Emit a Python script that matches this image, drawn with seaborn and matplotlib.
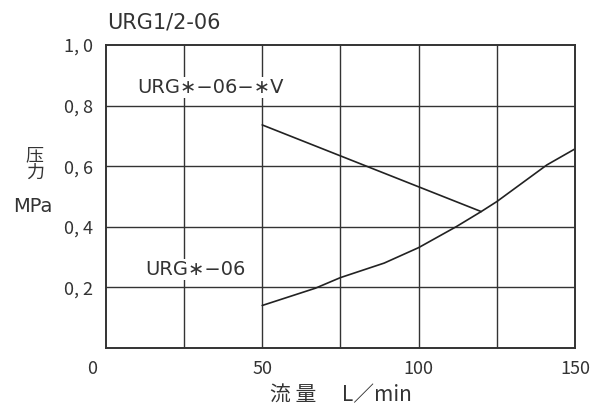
import matplotlib
matplotlib.use("Agg")
import matplotlib.pyplot as plt
import matplotlib.transforms as mtransforms
import seaborn as sns
import pandas as pd

# --- data ---
flow_v = [50, 120]
press_v = [0.736, 0.45]

flow_std = [50, 67, 75, 89, 100, 112, 120, 125, 141, 150]
press_std = [0.14, 0.197, 0.232, 0.28, 0.331, 0.40, 0.45, 0.483, 0.604, 0.657]

x_ticks = [0, 50, 100, 150]
y_ticks = [0.2, 0.4, 0.6, 0.8, 1.0]
y_labels = ["0, 2", "0, 4", "0, 6", "0, 8", "1, 0"]

df = pd.concat([
    pd.DataFrame({"flow": flow_v, "press": press_v, "series": "URG*-06-*V"}),
    pd.DataFrame({"flow": flow_std, "press": press_std, "series": "URG*-06"}),
])

sns.set_style("white")
plt.rcParams["font.family"] = ["Noto Sans CJK JP", "DejaVu Sans"]
txt = "#333333"
latin = ["DejaVu Sans"]

fig = plt.figure(figsize=(5.91, 4.05), dpi=100)
ax = fig.add_axes([0.179, 0.141, 0.794, 0.748])

sns.lineplot(data=df, x="flow", y="press", units="series", estimator=None,
             color="#222222", linewidth=1.2, sort=False, ax=ax)
if ax.get_legend():
    ax.get_legend().remove()

ax.set_xlim(0, 150)
ax.set_ylim(0, 1.0)

# grid
for gx in [25, 50, 75, 100, 125]:
    ax.axvline(gx, color="#333333", linewidth=1.0, zorder=0)
for gy in y_ticks[:-1]:
    ax.axhline(gy, color="#333333", linewidth=1.0, zorder=0)

for s in ax.spines.values():
    s.set_color("#333333")
    s.set_linewidth(1.4)

ax.set_xticks(x_ticks)
ax.set_xticklabels([str(t) for t in x_ticks])
ax.set_yticks(y_ticks)
ax.set_yticklabels(y_labels)
ax.tick_params(axis="both", length=0, labelsize=13, colors=txt)
ax.tick_params(axis="y", pad=9)
ax.tick_params(axis="x", pad=9)

# the "0" label sits left of the axis corner, as in the original
xl = ax.get_xticklabels()
xl[0].set_horizontalalignment("right")
xl[0].set_transform(xl[0].get_transform() + mtransforms.ScaledTranslation(-0.09, 0, fig.dpi_scale_trans))

ax.set_xlabel("")
ax.set_ylabel("")
fig.text(0.577, 0.025, "流 量　 L／min", ha="center", va="center", fontsize=15, color=txt)
fig.text(0.059, 0.617, "压", ha="center", va="center", fontsize=13, color=txt)
fig.text(0.059, 0.573, "力", ha="center", va="center", fontsize=13, color=txt)
fig.text(0.056, 0.491, "MPa", ha="center", va="center", fontsize=14, color=txt, family=latin)

fig.text(0.181, 0.944, "URG1/2-06", ha="left", va="center", fontsize=15, color=txt, family=latin)

ax.text(9.9, 0.86, "URG∗−06−∗V", ha="left", va="center", fontsize=14, color=txt, family=latin,
        bbox=dict(facecolor="white", edgecolor="none", pad=1))
ax.text(12.5, 0.259, "URG∗−06", ha="left", va="center", fontsize=14, color=txt, family=latin,
        bbox=dict(facecolor="white", edgecolor="none", pad=1))

fig.savefig("out.png", dpi=100)
